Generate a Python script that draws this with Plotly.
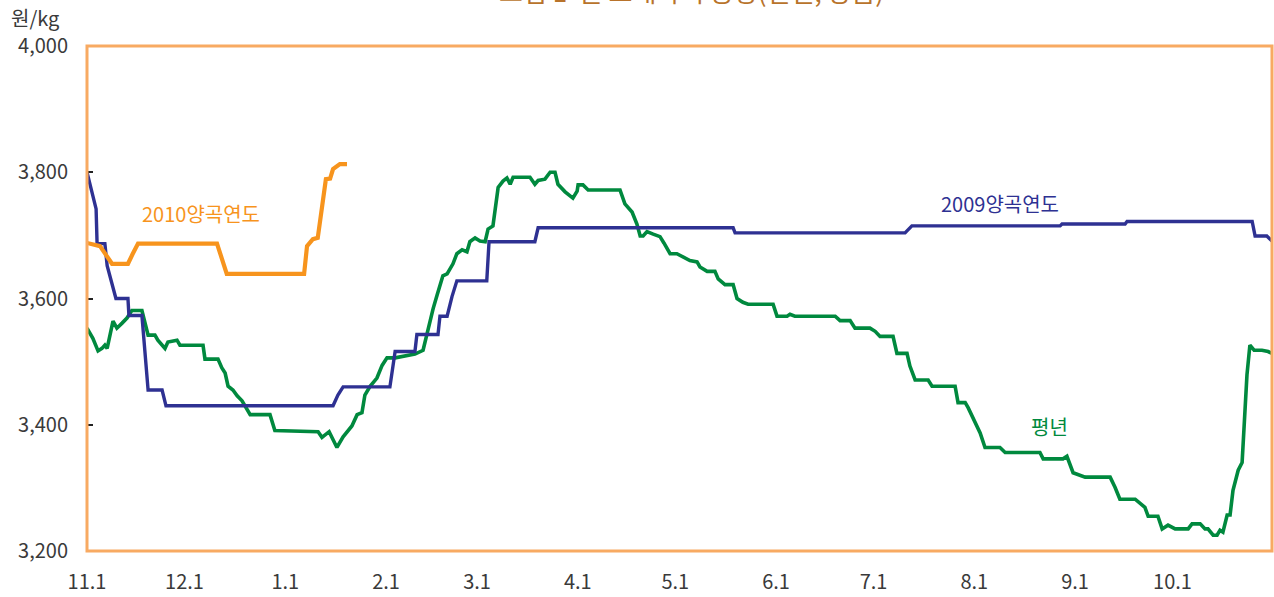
import plotly.graph_objects as go

# x = days since Nov 1 (양곡연도 start), y = 원/kg
tick_days = [0, 30, 61, 92, 120, 151, 181, 212, 242, 273, 304, 334]
tick_labels = ["11.1", "12.1", "1.1", "2.1", "3.1", "4.1", "5.1", "6.1", "7.1", "8.1", "9.1", "10.1"]
y_ticks = [3200, 3400, 3600, 3800, 4000]
y_tick_labels = ["3,200", "3,400", "3,600", "3,800", "4,000"]

days_2010 = [0, 3, 4, 7.7, 12.6, 14, 15.7, 40, 41.5, 43, 66.8, 67.7, 69.5, 71, 73.5, 74.8, 75.7, 77.8, 80]
price_2010 = [3688, 3685, 3683, 3655, 3655, 3670, 3687, 3687, 3665, 3639, 3639, 3683, 3694, 3696, 3789, 3790, 3805, 3813, 3813]

days_2009 = [0, 2.8, 3.1, 5.5, 6.2, 7.7, 8.9, 12.6, 12.9, 16.9, 18.8, 23.1, 24.3, 75.7, 77.2, 78.8,
             93.2, 94.8, 100.9, 101.5, 108, 108.6, 110.8, 112.3, 113.8, 123, 123.7, 137.8, 138.8,
             198.8, 199.4, 251.7, 253.8, 299.4, 300, 319.4, 320, 358.5, 359.4, 363, 364.6]
price_2009 = [3800, 3742, 3687, 3687, 3652, 3620, 3600, 3600, 3573, 3573, 3455, 3455, 3430, 3430, 3447, 3460,
              3460, 3516, 3516, 3543, 3543, 3572, 3572, 3603, 3628, 3628, 3690, 3690, 3712,
              3712, 3704, 3704, 3715, 3715, 3718, 3718, 3722, 3722, 3699, 3699, 3691]

days_avg = [0, 1.8, 3.4, 4.6, 5.5, 6.2, 8.0, 9.2, 10.8, 12.3, 13.8, 16.9, 18.8, 20.9, 21.8, 24, 24.9, 27.7,
            28.6, 35.7, 36.3, 40.3, 41.5, 42.5, 43.4, 44.9, 46.2, 47.7, 50.2, 56.3, 57.8, 71.1, 72.3,
            74.5, 76.9, 78.8, 81.5, 83.1, 84.6, 85.5, 87.1, 89.2, 90.8, 92.3, 94.8, 100.9, 103.4,
            104.9, 106.5, 107.7, 109.5, 110.8, 112.6, 113.8, 115.4, 116.9, 117.8, 119.4, 120.9, 122.5,
            123.4, 124.9, 126.5, 128, 129.2, 130.2, 131.1, 136.3, 137.8, 138.8, 140.9, 142.5, 144,
            144.9, 147.1, 149.5, 150.8, 151.1, 152.6, 154.2, 164, 165.5, 167.7, 169.2, 170.2, 171.1,
            172.3, 174.2, 176.3, 177.5, 179.4, 181.5, 183.4, 185.5, 187.7, 188.6, 190.8, 193.2, 194.2,
            196.3, 198.8, 200, 201.8, 203.4, 211.1, 212.3, 215.4, 216.3, 217.8, 230.2, 231.7, 234.8,
            236.3, 240.9, 242.5, 244, 248, 249.2, 252.3, 253.2, 254.8, 258.8, 260, 267.1, 268, 270.2,
            271.1, 273.2, 274.8, 276.3, 280.9, 282.5, 293.2, 294.2, 300.3, 301.5, 303.4, 307.1, 314.8,
            316.3, 317.8, 322.5, 325.5, 326.5, 329.5, 330.8, 332.6, 334.8, 338.8, 340, 342.5, 344,
            344.9, 346.5, 347.7, 348.6, 349.5, 350.8, 351.7, 352.6, 354.2, 355.4, 356.9, 357.8, 359.1,
            361.5, 363.4, 364.6]
price_avg = [3553, 3537, 3517, 3521, 3526, 3521, 3564, 3553, 3561, 3569, 3581, 3581, 3542, 3542, 3534, 3521, 3531, 3534,
             3526, 3526, 3504, 3504, 3490, 3482, 3461, 3455, 3446, 3438, 3416, 3416, 3391, 3389, 3380,
             3389, 3364, 3381, 3398, 3416, 3419, 3447, 3461, 3474, 3494, 3506, 3506, 3512, 3518,
             3553, 3584, 3605, 3636, 3639, 3655, 3671, 3677, 3674, 3690, 3696, 3691, 3690,
             3710, 3715, 3776, 3786, 3791, 3781, 3792, 3792, 3781, 3787, 3789, 3800, 3800,
             3781, 3769, 3759, 3770, 3780, 3780, 3772, 3772, 3750, 3737, 3718, 3699, 3699,
             3706, 3702, 3698, 3688, 3671, 3671, 3666, 3660, 3658, 3650, 3643, 3643, 3631,
             3622, 3622, 3600, 3594, 3591, 3591, 3572, 3572, 3575, 3572, 3572, 3565, 3565,
             3553, 3553, 3548, 3540, 3540, 3513, 3513, 3493, 3471, 3471, 3461, 3461, 3435, 3435,
             3427, 3403, 3387, 3364, 3364, 3356, 3356, 3346, 3346, 3350, 3324, 3317, 3317,
             3301, 3282, 3282, 3269, 3255, 3255, 3235, 3241, 3235, 3235, 3243, 3243, 3235,
             3235, 3225, 3225, 3233, 3230, 3257, 3257, 3296, 3328, 3340, 3479, 3526, 3518,
             3518, 3516, 3513]

GREEN = "#00893E"
NAVY = "#2E3192"
ORANGE = "#F7941D"
FRAME = "#F8AA62"
FONT = "Noto Sans CJK KR"
TXT = "#3a3a3a"

fig = go.Figure()
fig.add_trace(go.Scatter(x=days_avg, y=price_avg, mode="lines", name="평년",
                         line=dict(color=GREEN, width=3.6)))
fig.add_trace(go.Scatter(x=days_2009, y=price_2009, mode="lines", name="2009양곡연도",
                         line=dict(color=NAVY, width=3.4)))
fig.add_trace(go.Scatter(x=days_2010, y=price_2010, mode="lines", name="2010양곡연도",
                         line=dict(color=ORANGE, width=4.2)))

fig.update_layout(
    width=1274, height=597,
    margin=dict(l=87, r=2, t=46, b=46),
    paper_bgcolor="white", plot_bgcolor="white",
    showlegend=False,
    font=dict(family=FONT, size=20, color=TXT),
    xaxis=dict(range=[0, 364.6], tickvals=tick_days, ticktext=tick_labels, showgrid=False,
               zeroline=False, showline=False, ticks="", ticklabelstandoff=17,
               tickfont=dict(size=20, color=TXT)),
    yaxis=dict(range=[3200, 4000], tickvals=y_ticks, ticktext=y_tick_labels, showgrid=False,
               zeroline=False, showline=False, ticks="inside", ticklen=6, tickcolor="#222222",
               tickwidth=1.5, ticklabelstandoff=18, tickfont=dict(size=20, color=TXT)),
    shapes=[dict(type="rect", xref="paper", yref="paper", x0=0, y0=0, x1=1, y1=1,
                 line=dict(color=FRAME, width=3), layer="above")],
    annotations=[
        dict(text="원/kg", xref="paper", yref="paper", x=0, y=1, xanchor="right", yanchor="bottom",
             xshift=-26, yshift=12, showarrow=False, font=dict(size=20, color=TXT)),
        dict(text="2010양곡연도", x=35, y=3735, showarrow=False, font=dict(size=20, color=ORANGE)),
        dict(text="2009양곡연도", x=281, y=3751, showarrow=False, font=dict(size=20, color=NAVY)),
        dict(text="평년", x=296, y=3398, showarrow=False, font=dict(size=20, color=GREEN)),
        dict(text="그림 1  쌀 도매가격 동향(일별, 상품)", xref="paper", yref="paper", x=0.51, y=1,
             xanchor="center", yanchor="bottom", yshift=35, showarrow=False,
             font=dict(size=26, color="#B8732B")),
    ],
)

fig.write_html("out.html", config={"displayModeBar": False},
               post_script="document.body.style.margin='0';")
